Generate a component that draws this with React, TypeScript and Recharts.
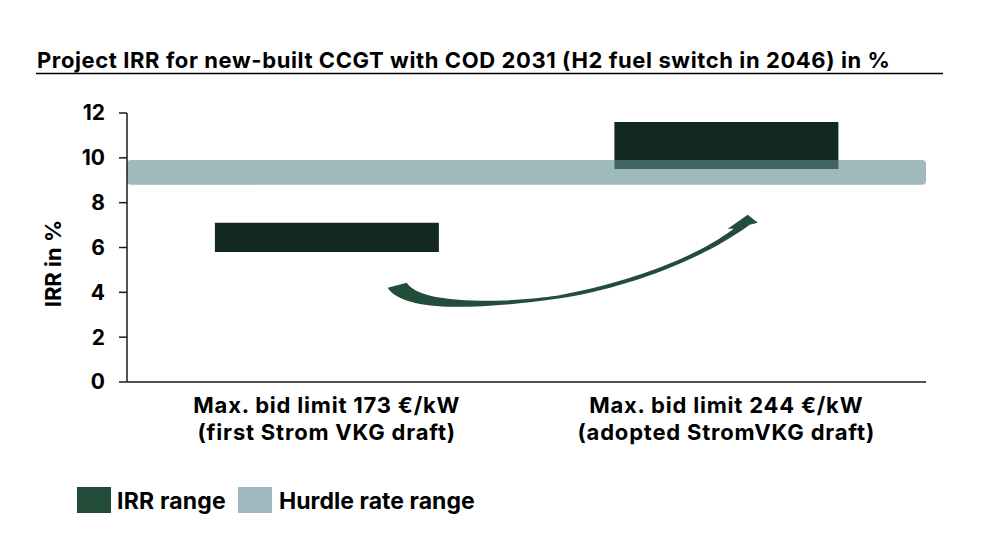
import React from 'react';
import { BarChart, Bar, XAxis, YAxis, ReferenceArea, ReferenceDot, Label } from 'recharts';

const categoryLine1 = ['Max. bid limit 173 €/kW', 'Max. bid limit 244 €/kW'];
const categoryLine2 = ['(first Strom VKG draft)', '(adopted StromVKG draft)'];
const irrLow = [5.8, 9.5];
const irrHigh = [7.1, 11.6];
const hurdleRange = [8.8, 9.9];
const yTicks = [0, 2, 4, 6, 8, 10, 12];
const arrowStartY = 4.2;
const titleText = 'Project IRR for new-built CCGT with COD 2031 (H2 fuel switch in 2046) in %';
const legendLabels = ['IRR range', 'Hurdle rate range'];

const FONT = 'Inter, "Noto Sans", sans-serif';
const BAR_COLOR = '#13281e';
const ARROW_COLOR = '#244c3a';
const HURDLE_COLOR = '#5f8a91';
const HURDLE_SWATCH = '#9eb9bd';

const data = categoryLine1.map((c, i) => ({
  name: c,
  sub: categoryLine2[i],
  irr: [irrLow[i], irrHigh[i]],
}));

const XTick = (props: any) => {
  const { x, y, payload, index } = props;
  const sub = categoryLine2[index] ?? '';
  return (
    <g transform={`translate(${x},${y})`}>
      <text
        textAnchor="middle"
        fontFamily={FONT}
        fontWeight={700}
        fontSize={22}
        letterSpacing={0.8}
        fill="#000"
      >
        <tspan x={0} y={23}>{payload.value}</tspan>
        <tspan x={0} y={50}>{sub}</tspan>
      </text>
    </g>
  );
};

const ArrowShape = (props: any) => {
  const { cx, cy } = props;
  if (cx == null || cy == null) return null;
  const d =
    'M 61,0 L 80,-5 C 88,7 113,12 153,13 C 193,13 213,10 230,8 C 293,-4 363,-26 407,-59 ' +
    'L 401,-59 L 421,-73 L 431,-65 L 423,-63 ' +
    'C 373,-26 293,2 230,11 C 193,16 163,19 128,19 C 93,19 68,12 61,0 Z';
  return <path d={d} transform={`translate(${cx},${cy})`} fill={ARROW_COLOR} />;
};

export default function App() {
  return (
    <div style={{ position: 'absolute', left: 0, top: 0, width: 987, height: 541, background: '#fff' }}>
      <BarChart
        width={987}
        height={541}
        data={data}
        margin={{ top: 113, right: 61, bottom: 0, left: 0 }}
        barCategoryGap="22%"
      >
        <YAxis
          type="number"
          domain={[0, 12]}
          ticks={yTicks}
          width={127}
          interval={0}
          tickSize={8}
          tickMargin={14}
          axisLine={{ stroke: '#1a1a1a', strokeWidth: 1.5 }}
          tickLine={{ stroke: '#1a1a1a', strokeWidth: 1.5 }}
          tick={{ fontFamily: FONT, fontWeight: 700, fontSize: 21, fill: '#000' }}
        >
          <Label
            content={(p: any) => {
              const vb = p.viewBox || {};
              const x = (vb.x ?? 0) + 53;
              const y = (vb.y ?? 0) + (vb.height ?? 0) / 2 + 16;
              return (
                <text
                  x={x}
                  y={y}
                  transform={`rotate(-90 ${x} ${y})`}
                  textAnchor="middle"
                  dominantBaseline="central"
                  fontFamily={FONT}
                  fontWeight={700}
                  fontSize={22}
                  fill="#000"
                >
                  IRR in %
                </text>
              );
            }}
          />
        </YAxis>
        <XAxis
          dataKey="name"
          height={159}
          tickLine={false}
          axisLine={{ stroke: '#1a1a1a', strokeWidth: 1.5 }}
          tick={<XTick />}
          interval={0}
        />
        <Bar dataKey="irr" fill={BAR_COLOR} isAnimationActive={false} />
        <ReferenceArea
          y1={hurdleRange[0]}
          y2={hurdleRange[1]}
          fill={HURDLE_COLOR}
          fillOpacity={0.6}
          stroke="none"
          radius={4}
          ifOverflow="visible"
          zIndex={400}
        />
        <ReferenceDot
          x={categoryLine1[0]}
          y={arrowStartY}
          ifOverflow="visible"
          shape={<ArrowShape />}
        />
      </BarChart>
      <svg
        width={987}
        height={541}
        style={{ position: 'absolute', left: 0, top: 0, pointerEvents: 'none' }}
      >
        <text x={37} y={68} fontFamily={FONT} fontWeight={700} fontSize={22} letterSpacing={0.6} fill="#000">
          {titleText}
        </text>
        <line x1={36} x2={943} y1={73.5} y2={73.5} stroke="#000" strokeWidth={1.5} />
        <rect x={77} y={487} width={34} height={26} fill={ARROW_COLOR} />
        <text x={117} y={509} fontFamily={FONT} fontWeight={700} fontSize={23} letterSpacing={0.2} fill="#000">
          {legendLabels[0]}
        </text>
        <rect x={238} y={487} width={34} height={26} fill={HURDLE_SWATCH} />
        <text x={279} y={509} fontFamily={FONT} fontWeight={700} fontSize={23} letterSpacing={0.05} fill="#000">
          {legendLabels[1]}
        </text>
      </svg>
    </div>
  );
}
